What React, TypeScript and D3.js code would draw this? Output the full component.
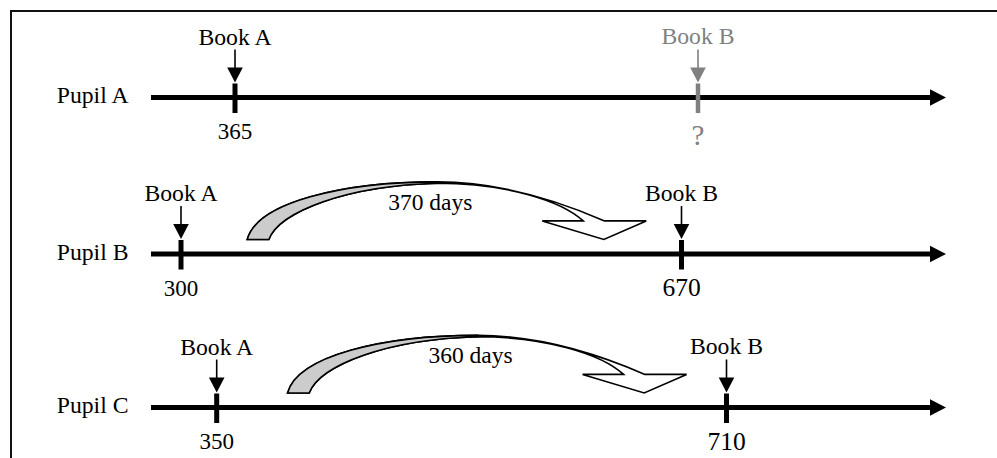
import React from "react";
import * as d3 from "d3";

// ---- data ----
const pupils = ["Pupil A", "Pupil B", "Pupil C"];
const bookLabels = ["Book A", "Book B"];
const bookADays = [365, 300, 350];
const bookBDays: (number | null)[] = [null, 670, 710];
const gapLabels: (string | null)[] = [null, "370 days", "360 days"];
const unknownLabel = "?";

// ---- layout ----
const W = 997;
const H = 458;
const rowY = [97.5, 254, 407.5];
const rowRanges: [number, number][] = [
  [235, 698],
  [181, 681.5],
  [216.7, 726.5],
];
const axisStart = 151;
const axisTip = 946;
const FONT = "'Liberation Serif', 'Times New Roman', serif";
const GRAY = "#808080";

function curvedArrowPath(ox: number, oy: number) {
  const p = d3.path();
  const P = (x: number, y: number): [number, number] => [ox + x, oy + y];
  p.moveTo(...P(0, 0));
  p.bezierCurveTo(...P(10, -37), ...P(95, -57.6), ...P(190, -57.6));
  p.bezierCurveTo(...P(258, -57.6), ...P(322, -34), ...P(357.3, -18.6));
  p.lineTo(...P(399, -18.6));
  p.lineTo(...P(356.6, 0));
  p.lineTo(...P(295, -18.6));
  p.lineTo(...P(336, -18.6));
  p.bezierCurveTo(...P(314, -39), ...P(258, -56.3), ...P(190, -56.3));
  p.bezierCurveTo(...P(100, -54), ...P(32, -28), ...P(21.6, 0));
  p.closePath();
  return p.toString();
}

function crescentPath(ox: number, oy: number) {
  const p = d3.path();
  const P = (x: number, y: number): [number, number] => [ox + x, oy + y];
  p.moveTo(...P(0, 0));
  p.bezierCurveTo(...P(10, -37), ...P(95, -57.6), ...P(190, -57.6));
  p.lineTo(...P(190, -56.3));
  p.bezierCurveTo(...P(100, -54), ...P(32, -28), ...P(21.6, 0));
  p.closePath();
  return p.toString();
}

function DownArrow({ x, y, color }: { x: number; y: number; color: string }) {
  return (
    <g>
      <line x1={x} x2={x} y1={y - 48} y2={y - 29} stroke={color} strokeWidth={1.6} />
      <polygon
        points={`${x - 7.8},${y - 30} ${x + 7.8},${y - 30} ${x},${y - 15}`}
        fill={color}
      />
    </g>
  );
}

export default function App() {
  return (
    <svg
      width={W}
      height={H}
      style={{ position: "absolute", left: 0, top: 0, background: "#fff" }}
      fontFamily={FONT}
    >
      <rect x={11} y={11} width={W + 20} height={H + 20} fill="#fff" stroke="#111" strokeWidth={2} />
      {pupils.map((name, i) => {
        const y = rowY[i];
        const x = d3.scalePoint<string>().domain(bookLabels).range(rowRanges[i]);
        const xA = x("Book A")!;
        const xB = x("Book B")!;
        const known = bookBDays[i] !== null;
        const bColor = known ? "#000" : GRAY;
        const ox = (xA + xB) / 2 - 184;
        const oy = y - 14.5;
        return (
          <g key={name}>
            <text x={128.5} y={y + 5.8} fontSize={23.7} textAnchor="end">
              {name}
            </text>
            {/* axis */}
            <line x1={axisStart} x2={axisTip - 14} y1={y} y2={y} stroke="#000" strokeWidth={5} />
            <polygon
              points={`${axisTip - 16},${y - 8.2} ${axisTip},${y} ${axisTip - 16},${y + 8.2}`}
              fill="#000"
            />
            {/* curved arrow */}
            {gapLabels[i] && (
              <g>
                <path d={curvedArrowPath(ox, oy)} fill="#fff" stroke="#000" strokeWidth={1.6} strokeLinejoin="miter" />
                <path d={crescentPath(ox, oy)} fill="#cccccc" stroke="#000" strokeWidth={1.6} />
                <text x={ox + 183} y={y - 44.5} fontSize={23.5} textAnchor="middle">
                  {gapLabels[i]}
                </text>
              </g>
            )}
            {/* Book A */}
            <text x={xA} y={y - 53} fontSize={23.7} textAnchor="middle">
              {bookLabels[0]}
            </text>
            <DownArrow x={xA} y={y} color="#000" />
            <line x1={xA} x2={xA} y1={y - 14} y2={y + 15.5} stroke="#000" strokeWidth={5} />
            <text x={xA} y={y + 41.5} fontSize={23} textAnchor="middle">
              {bookADays[i]}
            </text>
            {/* Book B */}
            <text x={xB} y={y - 53.5} fontSize={23.7} textAnchor="middle" fill={bColor}>
              {bookLabels[1]}
            </text>
            <DownArrow x={xB} y={y} color={bColor} />
            <line x1={xB} x2={xB} y1={y - 14} y2={y + 15.5} stroke={bColor} strokeWidth={known ? 5 : 4.5} />
            {known ? (
              <text x={xB} y={y + 42} fontSize={25.5} textAnchor="middle">
                {bookBDays[i]}
              </text>
            ) : (
              <text x={xB} y={y + 47} fontSize={29} textAnchor="middle" fill={GRAY}>
                {unknownLabel}
              </text>
            )}
          </g>
        );
      })}
    </svg>
  );
}
